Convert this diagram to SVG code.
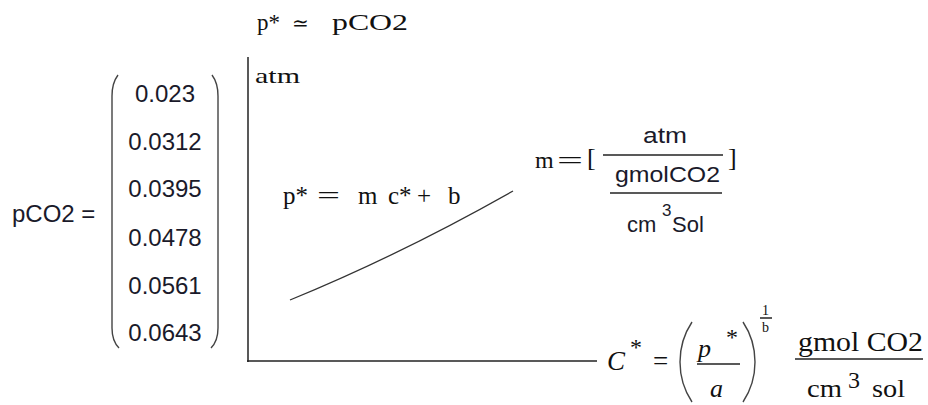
<svg xmlns="http://www.w3.org/2000/svg" width="928" height="405" viewBox="0 0 928 405">
<style>
.serif{font-family:"Liberation Serif","Times New Roman",serif;fill:#111}
.sans{font-family:"Liberation Sans",Arial,sans-serif;fill:#1a1a2a}
.it{font-style:italic}
.ln{stroke:#222;stroke-width:1.5;fill:none}
.par{stroke:#444;stroke-width:1.4;fill:none}
</style>
<rect width="928" height="405" fill="#fff"/>

<g id="title">
<text class="serif" font-size="23" y="30"><tspan x="257">p*</tspan><tspan x="292" font-size="20">≃</tspan><tspan x="332" textLength="76" lengthAdjust="spacingAndGlyphs">pCO2</tspan></text>
</g>

<g id="matrix">
<text class="sans" font-size="24" x="12" y="222">pCO2 =</text>
<path class="par" d="M118,75 Q112,83 112,96 L112,328 Q112,341 119,348"/>
<path class="par" d="M212,75 Q218,83 218,96 L218,328 Q218,341 211,348"/>
<g class="sans" font-size="24" text-anchor="middle">
<text x="165" y="102">0.023</text>
<text x="165" y="150">0.0312</text>
<text x="165" y="197">0.0395</text>
<text x="165" y="246">0.0478</text>
<text x="165" y="294">0.0561</text>
<text x="165" y="341">0.0643</text>
</g>
</g>

<g id="axes">
<line class="ln" x1="248" y1="57" x2="248" y2="362" stroke-width="2"/>
<line class="ln" x1="247" y1="361" x2="597" y2="361" stroke-width="2"/>
<text class="serif" font-size="22" x="255" y="83" textLength="45" lengthAdjust="spacingAndGlyphs">atm</text>
</g>

<g id="curve">
<path d="M290,300 Q400,255 513,191" fill="none" stroke="#333" stroke-width="1.3"/>
</g>

<g id="linear-eq">
<text class="serif" font-size="25" y="204"><tspan x="283">p*</tspan><tspan x="317" textLength="23" lengthAdjust="spacingAndGlyphs">=</tspan><tspan x="358">m</tspan><tspan x="388">c*</tspan><tspan x="417">+</tspan><tspan x="448">b</tspan></text>
</g>

<g id="m-units">
<text class="serif" font-size="24" x="535" y="168">m</text>
<text class="serif" font-size="24" x="557" y="168" textLength="26" lengthAdjust="spacingAndGlyphs">=</text>
<text class="serif" font-size="26" x="587" y="166">[</text>
<text class="serif" font-size="26" x="728" y="166">]</text>
<text class="sans" font-size="22" x="643" y="143" textLength="44" lengthAdjust="spacingAndGlyphs">atm</text>
<line class="ln" x1="603" y1="155" x2="723" y2="155"/>
<text class="sans" font-size="22" x="615" y="182" textLength="105" lengthAdjust="spacingAndGlyphs">gmolCO2</text>
<line class="ln" x1="610" y1="193" x2="722" y2="193"/>
<text class="sans" font-size="22" x="627" y="232">cm</text>
<text class="sans" font-size="17" x="662" y="216">3</text>
<text class="sans" font-size="22" x="672" y="232">Sol</text>
</g>

<g id="c-eq">
<text class="serif it" font-size="27" x="607" y="370">C</text>
<text class="serif" font-size="24" x="630" y="355">*</text>
<text class="serif" font-size="27" x="653" y="370">=</text>
<path class="par" d="M692,322 Q680,340 680,362 Q680,384 692,402"/>
<path class="par" d="M743,322 Q755,340 755,362 Q755,384 743,402"/>
<text class="serif it" font-size="26" x="698" y="357">p</text>
<text class="serif" font-size="24" x="726" y="345">*</text>
<line class="ln" x1="697" y1="364" x2="740" y2="364"/>
<text class="serif it" font-size="26" x="710" y="397">a</text>
<text class="serif" font-size="14" x="762" y="315">1</text>
<line class="ln" x1="760" y1="318" x2="772" y2="318" stroke-width="1"/>
<text class="serif" font-size="14" x="762" y="332">b</text>
<text class="serif" font-size="28" x="798" y="351" textLength="125" lengthAdjust="spacingAndGlyphs">gmol CO2</text>
<line class="ln" x1="795" y1="359" x2="923" y2="359"/>
<text class="serif" font-size="26" x="807" y="397" textLength="35" lengthAdjust="spacingAndGlyphs">cm</text>
<text class="serif" font-size="24" x="848" y="388">3</text>
<text class="serif" font-size="26" x="872" y="397" textLength="33" lengthAdjust="spacingAndGlyphs">sol</text>
</g>
</svg>
